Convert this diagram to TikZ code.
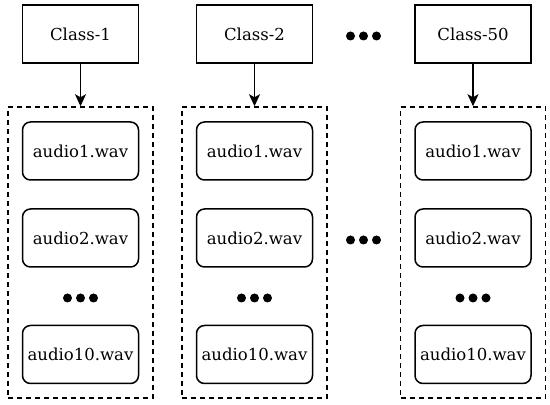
\documentclass[tikz,border=0pt]{standalone}
\usepackage{fontspec}
\setmainfont{DejaVu Serif}
\usepackage{tikz}
\usetikzlibrary{arrows.meta, positioning}
\definecolor{mydark}{RGB}{0,0,0}
\tikzset{
  classbox/.style={rectangle, draw=mydark, fill=white,
    minimum width=116pt, minimum height=58pt,
    font=\fontsize{16.5}{18}\selectfont, line width=1.5pt},
  filebox/.style={rectangle, draw=mydark, fill=white,
    minimum width=116pt, minimum height=58pt,
    font=\fontsize{16.5}{18}\selectfont, rounded corners=8pt, line width=1.5pt},
  groupbox/.style={rectangle, draw=mydark, dash pattern=on 5pt off 4pt,
    minimum width=145pt, minimum height=291pt, line width=1.5pt},
  arrow/.style={-{Stealth[length=12pt, width=11pt, inset=3pt]}, line width=1.5pt, color=mydark}
}

\begin{document}
\begin{tikzpicture}[x=1pt, y=1pt]
  \useasboundingbox (0,0) rectangle (550,405);

  % one column per class
  \foreach \cx/\id/\lbl in {80.5/1/Class-1, 254.5/2/Class-2, 473/3/Class-50} {
    \node[groupbox] (grp\id) at (\cx,152.5) {};
    \node[classbox] (cls\id) at (\cx,371) {\lbl};
    \node[filebox] (fa\id) at (\cx,254) {audio1.wav};
    \node[filebox] (fb\id) at (\cx,167) {audio2.wav};
    \node[filebox] (fc\id) at (\cx,50.5) {audio10.wav};
    \draw[arrow] (cls\id) -- (grp\id);
    % dots between audio2 and audio10
    \foreach \dx in {-13,0,13}
      \fill[mydark] (\cx+\dx,107) circle (4.5pt);
  }

  % dots between the columns
  \foreach \dx in {-13,0,13} {
    \fill[mydark] (363.5+\dx,369) circle (4.5pt);
    \fill[mydark] (363.5+\dx,165) circle (4.5pt);
  }
\end{tikzpicture}
\end{document}
